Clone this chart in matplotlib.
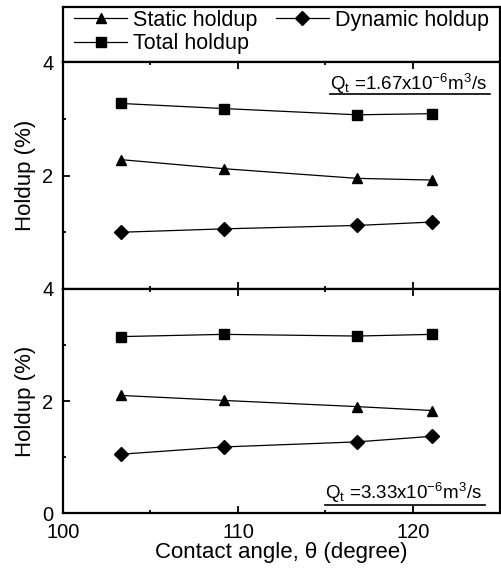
import numpy as np
import matplotlib
matplotlib.use('Agg')
import matplotlib.pyplot as plt
from matplotlib.lines import Line2D

# ── Data ─────────────────────────────────────────────────────────────────────
angle = [103.3, 109.2, 116.8, 121.1]

# Q_t = 1.67e-6 m3/s
static_q1  = [2.28, 2.12, 1.95, 1.92]
dynamic_q1 = [1.00, 1.06, 1.12, 1.18]
total_q1   = [3.27, 3.18, 3.07, 3.09]

# Q_t = 3.33e-6 m3/s
static_q2  = [2.10, 2.01, 1.90, 1.83]
dynamic_q2 = [1.05, 1.18, 1.27, 1.37]
total_q2   = [3.15, 3.19, 3.16, 3.19]

plt.rcParams.update({'font.family': 'Liberation Sans',
                     'mathtext.fontset': 'custom',
                     'mathtext.rm': 'Liberation Sans',
                     'mathtext.it': 'Liberation Sans:italic',
                     'axes.linewidth': 1.6})

fig = plt.figure(figsize=(5.01, 5.68), dpi=100)
L, R = 0.1257, 0.999
ax_leg = fig.add_axes([L, 0.8908, R - L, 0.9877 - 0.8908])
ax1 = fig.add_axes([L, 0.4912, R - L, 0.8908 - 0.4912])
ax2 = fig.add_axes([L, 0.0968, R - L, 0.4912 - 0.0968])

line_kw = dict(color='black', lw=0.9)

def draw(ax, st, dy, tt):
    h_s, = ax.plot(angle, st, marker='^', ms=7.5, label='Static holdup', **line_kw)
    h_d, = ax.plot(angle, dy, marker='D', ms=7, label='Dynamic holdup', **line_kw)
    h_t, = ax.plot(angle, tt, marker='s', ms=6.5, label='Total holdup', **line_kw)
    ax.set_xlim(100, 125)
    ax.set_ylim(0, 4)
    ax.set_xticks([100, 110, 120])
    ax.set_xticks([105, 115], minor=True)
    ax.set_yticks([0, 2, 4])
    ax.set_yticks([1, 3], minor=True)
    ax.tick_params(which='both', direction='in', top=True, right=False,
                   labelsize=14.5, width=1.3)
    ax.tick_params(axis='x', pad=7.5)
    ax.tick_params(axis='y', pad=7)
    ax.tick_params(which='major', length=5)
    ax.tick_params(which='minor', length=2.5)
    ax.set_ylabel('Holdup (%)', fontsize=16, labelpad=4)
    return h_s, h_d, h_t

h_s, h_d, h_t = draw(ax1, static_q1, dynamic_q1, total_q1)
draw(ax2, static_q2, dynamic_q2, total_q2)

ax1.tick_params(labelbottom=False)
ax1.set_yticklabels(['', '2', '4'])
ax2.set_xlabel('Contact angle, \u03b8 (degree)', fontsize=16, labelpad=0)

# flow-rate annotations with underline
ax1.text(0.61, 0.905, r'Q$_\mathrm{t}$ =1.67x10$^{-6}$m$^3$/s', transform=ax1.transAxes,
         fontsize=13.5, ha='left', va='center')
ax1.add_line(Line2D([0.61, 0.975], [0.86, 0.86], transform=ax1.transAxes,
                    color='black', lw=1.2))
ax2.text(0.60, 0.09, r'Q$_\mathrm{t}$ =3.33x10$^{-6}$m$^3$/s', transform=ax2.transAxes,
         fontsize=13.5, ha='left', va='center')
ax2.add_line(Line2D([0.60, 0.965], [0.035, 0.035], transform=ax2.transAxes,
                    color='black', lw=1.2))

# legend box on top
ax_leg.set_xticks([]); ax_leg.set_yticks([])
ax_leg.legend([h_s, h_t, h_d], ['Static holdup', 'Total holdup', 'Dynamic holdup'],
              ncol=2, loc='upper left', frameon=False, fontsize=15.5,
              bbox_to_anchor=(-0.01, 1.22), handlelength=2.5, handletextpad=0.25,
              columnspacing=0.85, labelspacing=0.1, borderpad=0.2)

fig.savefig('out.png', dpi=100, facecolor='white')
